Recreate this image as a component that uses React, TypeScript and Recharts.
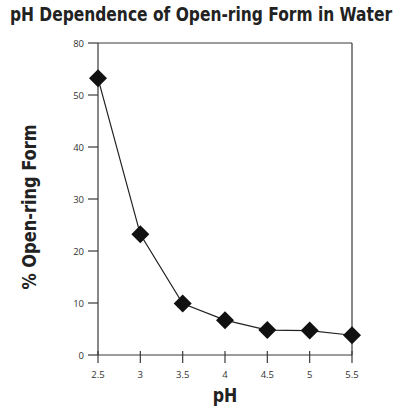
import {
  LineChart,
  Line,
  XAxis,
  YAxis,
  ReferenceLine,
} from 'recharts';

const phValues = [2.5, 3, 3.5, 4, 4.5, 5, 5.5];
const openRingPercent = [53.2, 23.2, 9.9, 6.7, 4.8, 4.7, 3.8];
const yTicks = [0, 10, 20, 30, 40, 50, 60];
const yTickLabels = ['0', '10', '20', '30', '40', '50', '80'];

const chartData = phValues.map((ph, i) => ({ ph, value: openRingPercent[i] }));

const HEAD_FONT = '"DejaVu Sans Condensed", "DejaVu Sans", sans-serif';
const TICK_FONT = '"Open Sans", "Liberation Sans", sans-serif';
const AXIS_COLOR = '#3a3a3a';

function XTick(props: any) {
  const { x, y, payload } = props;
  return (
    <g>
      <line x1={x} x2={x} y1={y} y2={y - 12} stroke={AXIS_COLOR} strokeWidth={1.2} />
      <text
        x={x}
        y={y + 15}
        textAnchor="middle"
        fontSize={9.5}
        fontFamily={TICK_FONT}
        fill="#333"
      >
        {payload.value}
      </text>
    </g>
  );
}

function YTick(props: any) {
  const { x, y, payload, index } = props;
  return (
    <text
      x={x}
      y={y + 3.5}
      textAnchor="end"
      fontSize={9.5}
      fontFamily={TICK_FONT}
      fill="#333"
    >
      {yTickLabels[index] ?? payload.value}
    </text>
  );
}

function Diamond(props: any) {
  const { cx, cy } = props;
  if (cx == null || cy == null) return null;
  const r = 9;
  return (
    <path
      d={`M${cx},${cy - r} L${cx + r},${cy} L${cx},${cy + r} L${cx - r},${cy} Z`}
      fill="#111"
    />
  );
}

export default function App() {
  return (
    <div style={{ position: 'absolute', left: 0, top: 0, width: 400, height: 411, background: '#fff', overflow: 'hidden' }}>
      <div
        style={{
          position: 'absolute',
          left: -99,
          top: 2,
          width: 600,
          textAlign: 'center',
          fontFamily: HEAD_FONT,
          fontWeight: 'bold',
          fontSize: 20,
          color: '#222',
          whiteSpace: 'nowrap',
          transform: 'scaleX(0.86)',
        }}
      >
        pH Dependence of Open-ring Form in Water
      </div>
      <LineChart
        width={400}
        height={411}
        data={chartData}
        margin={{ top: 43, right: 48, bottom: 0, left: 0 }}
      >
        <XAxis
          dataKey="ph"
          type="number"
          domain={[2.5, 5.5]}
          ticks={phValues}
          tick={<XTick />}
          tickLine={false}
          stroke={AXIS_COLOR}
          strokeWidth={1.2}
          height={56}
          label={{
            content: (p: any) => {
              const vb = p.viewBox;
              return (
                <text
                  x={vb.x + vb.width / 2}
                  y={vb.y + 47}
                  textAnchor="middle"
                  fontFamily={HEAD_FONT}
                  fontWeight="bold"
                  fontSize={20}
                  fill="#222"
                  transform={`translate(${(vb.x + vb.width / 2) * 0.12}, 0) scale(0.88, 1)`}
                >
                  pH
                </text>
              );
            },
          }}
        />
        <YAxis
          dataKey="value"
          type="number"
          domain={[0, 60]}
          ticks={yTicks}
          tick={<YTick />}
          tickSize={10}
          tickMargin={4}
          stroke={AXIS_COLOR}
          strokeWidth={1.2}
          width={98}
          label={{
            content: () => (
              <text
                x={0}
                y={0}
                transform="translate(36, 207) rotate(-90) scale(0.9, 1)"
                textAnchor="middle"
                fontFamily={HEAD_FONT}
                fontWeight="bold"
                fontSize={20}
                fill="#222"
              >
                % Open-ring Form
              </text>
            ),
          }}
        />
        <ReferenceLine y={60} stroke={AXIS_COLOR} strokeWidth={1.2} />
        <ReferenceLine x={5.5} stroke={AXIS_COLOR} strokeWidth={1.2} />
        <Line
          dataKey="value"
          stroke="#222"
          strokeWidth={1.2}
          dot={<Diamond />}
          activeDot={false}
          isAnimationActive={false}
        />
      </LineChart>
    </div>
  );
}
